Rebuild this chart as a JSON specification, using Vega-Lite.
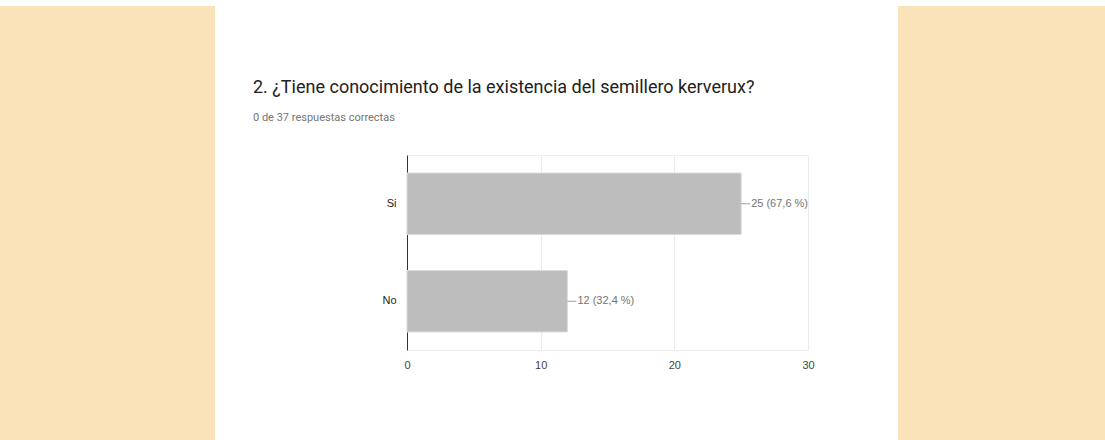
{
  "$schema": "https://vega.github.io/schema/vega-lite/v6.json",
  "background": "white",
  "padding": {"top": 6, "left": 0, "right": 0, "bottom": 0},
  "config": {"view": {"stroke": null}},
  "spacing": 0,
  "bounds": "full",
  "hconcat": [
    {
      "width": 215,
      "height": 434,
      "view": {"fill": "#FBE3B9", "stroke": null},
      "data": {"values": []},
      "mark": {"type": "point", "opacity": 0}
    },
    {
      "width": 683,
      "height": 434,
      "title": {
        "text": "2. ¿Tiene conocimiento de la existencia del semillero kerverux?",
        "subtitle": "0 de 37 respuestas correctas",
        "anchor": "start",
        "frame": "group",
        "dx": 38,
        "offset": -117,
        "font": "Roboto",
        "fontSize": 18,
        "fontWeight": "normal",
        "color": "#212121",
        "subtitleFont": "Roboto",
        "subtitleFontSize": 11,
        "subtitleColor": "#757575",
        "subtitlePadding": 15
      },
      "data": {
        "values": [
          {"respuesta": "Si", "n": 25, "etiqueta": "25 (67,6 %)"},
          {"respuesta": "No", "n": 12, "etiqueta": "12 (32,4 %)"}
        ]
      },
      "encoding": {
        "y": {
          "field": "respuesta",
          "type": "nominal",
          "sort": ["Si", "No"],
          "scale": {"range": [149, 344], "paddingInner": 0.37, "paddingOuter": 0.185},
          "axis": {
            "orient": "left",
            "offset": -192,
            "title": null,
            "ticks": false,
            "grid": false,
            "domainColor": "#333333",
            "labelPadding": 11,
            "labelFont": "Liberation Sans",
            "labelFontSize": 11,
            "labelColor": "#222222"
          }
        }
      },
      "layer": [
        {
          "mark": {"type": "bar", "color": "#BDBDBD", "stroke": "#DADADA", "strokeWidth": 1},
          "encoding": {
            "x": {
              "field": "n",
              "type": "quantitative",
              "scale": {"domain": [0, 30], "range": [192, 593], "nice": false},
              "axis": {
                "orient": "bottom",
                "offset": -90,
                "values": [0, 10, 20, 30],
                "title": null,
                "grid": false,
                "domainColor": "#EBEBEB",
                "ticks": false,
                "labelPadding": 9,
                "labelFont": "Liberation Sans",
                "labelFontSize": 11,
                "labelColor": "#444444",
                "labelFlush": false
              }
            }
          }
        },
        {
          "mark": {"type": "rule", "color": "#9E9E9E", "x2Offset": 9},
          "encoding": {
            "x": {"field": "n", "type": "quantitative", "axis": null},
            "x2": {"field": "n"}
          }
        },
        {
          "mark": {"type": "text", "align": "left", "dx": 10, "font": "Liberation Sans", "fontSize": 11, "color": "#757575"},
          "encoding": {
            "x": {
              "field": "n",
              "type": "quantitative",
              "axis": {
                "orient": "top",
                "offset": -149,
                "values": [10, 20, 30],
                "labels": false,
                "ticks": false,
                "grid": true,
                "gridColor": "#EBEBEB",
                "title": null,
                "domainColor": "#EEEEEE"
              }
            },
            "text": {"field": "etiqueta"}
          }
        }
      ],
      "resolve": {"axis": {"x": "independent"}}
    },
    {
      "width": 207,
      "height": 434,
      "view": {"fill": "#FBE3B9", "stroke": null},
      "data": {"values": []},
      "mark": {"type": "point", "opacity": 0}
    }
  ]
}
